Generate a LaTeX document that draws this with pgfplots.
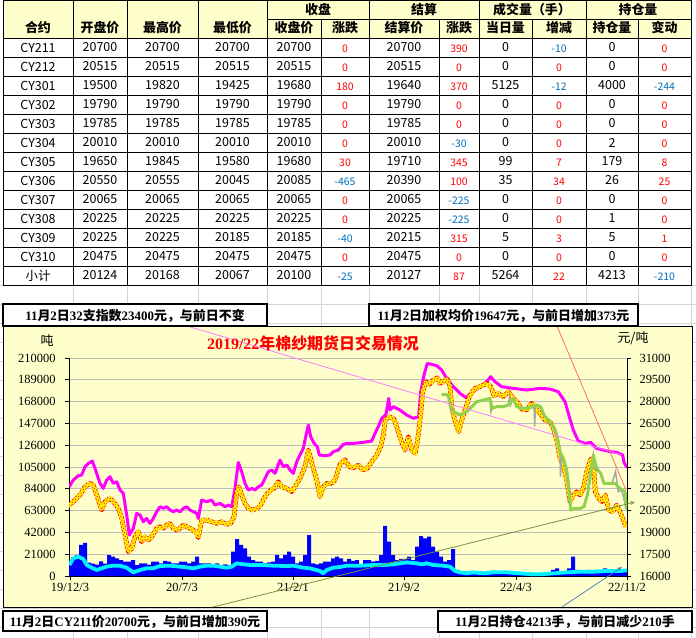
\documentclass[border=0pt]{standalone}
\usepackage{fontspec}
\setmainfont{Liberation Serif}
\newfontfamily\cjk{Noto Sans CJK SC}
\usepackage{pgfplots}
\pgfplotsset{compat=1.18}
\usepackage{pgfplotstable}
\usetikzlibrary{arrows.meta}
\definecolor{tblue}{RGB}{0,112,192}
\definecolor{hdr}{RGB}{255,255,204}
\definecolor{chartbg}{RGB}{255,255,204}
\definecolor{xlgrid}{RGB}{212,212,212}
\definecolor{mag}{RGB}{255,0,255}
\definecolor{lgreen}{RGB}{146,208,80}
\definecolor{vblue}{RGB}{0,0,255}
\definecolor{gcyan}{RGB}{0,240,255}
\newcommand\C[1]{{\cjk\bfseries #1}}
\newcommand\clr[1]{\ifnum#1<0 \color{tblue}\else\color{red}\fi#1}

\pgfplotstableread{
x y
0.3 22145
4.3 22603
9.3 22902
12.7 22948
16 23521
19.3 23751
23.3 23911
26 23406
31 22374
34.3 22030
37.7 22603
41 22833
44.3 22374
47.7 22489
51 21915
54.3 21686
57.7 20195
60.3 18819
64.3 19277
67.7 20310
71 20195
74.3 19736
77.7 19965
81 19621
84.3 19965
87.7 20424
91 20768
94.3 20654
97.7 20768
101 20539
104.3 20424
107.7 20539
111 20424
114.3 20654
117.7 20768
121 20539
124.3 20424
127.7 20310
129.3 19965
132.7 21227
137.7 21112
142.7 21227
146 20883
151 20998
156 20768
159.3 20883
162.7 20768
166 22030
169.3 23819
172.7 23177
176 22374
179.3 21915
182.7 22030
186 21915
189.3 22145
192.7 22259
196 22718
199.3 23177
202.7 23292
206 23062
211 23980
214.3 23521
217.7 23636
221 23292
224.3 23062
227.7 23864
231 24324
234.3 24783
236.7 25586
239.3 26389
241.7 25586
245 25127
248.3 24898
250.3 24324
256 24278
261 24324
264.3 24553
269.3 24668
274.3 25058
278.3 25127
284.3 25127
294.3 25196
302.7 25288
306 25815
309.3 26274
312.7 26848
317 27123
319.7 28224
321 27421
324.3 27650
331 27421
337.7 27077
344.3 26848
349.7 26962
351.7 28683
355 29830
358.3 30633
367.7 30472
372.7 30174
377.7 29600
384.3 29027
391 28568
397 28270
402.7 28637
411 29027
417.7 29371
421.7 29715
426 29371
432.7 29027
444.3 28912
457.7 28797
471 28912
481 28866
489.3 28683
496 27994
500.3 26962
504.3 26044
509.3 25288
516 25127
521.7 25196
527.7 24783
534.3 24668
541 24553
547.7 24508
553.7 24324
555 23819
558 23452
}\magtab

\pgfplotstableread{
x y
0.3 20883
6 21227
11 21571
16 22145
21 22374
24.3 22259
27.7 21571
32.7 20539
36 21112
41 21342
44.3 21112
49.3 20654
52.7 19965
56 18819
59.3 17671
62.7 17901
66 18704
69.3 19048
72.7 18360
76 18704
79.3 18474
82.7 18704
87.7 19277
91 19392
94.3 19277
97.7 19507
101 19621
104.3 19277
107.7 19163
111 19277
114.3 19507
117.7 19392
121 19277
124.3 19163
127.7 18933
129.3 18635
132.7 19851
137.7 19851
142.7 19736
147.7 19621
152.7 19736
157.7 19553
161.7 19621
165 20080
167.7 21686
169.7 22145
172.7 21571
176 20998
179.3 20654
183.7 20539
188.3 20654
191.7 20883
195 21342
198.3 21686
201.7 21915
205 22030
209.3 22489
212.7 22145
217.7 22030
222.7 21801
226 22145
231 22718
236 23521
239.3 24668
241.7 24095
244.3 23406
247.7 22603
251 21456
254.3 22145
257.7 22374
262.7 22374
266 22603
271 23700
276 24000
280.3 23521
285 23452
289.3 23636
293.7 23292
298.3 23406
302.7 23865
307.7 24324
311.7 24898
314.3 25700
316.3 26733
320.3 26962
325 26802
329.3 25930
332.7 25196
336 24668
339.3 25586
342.7 24668
346.3 24439
349.3 25700
351.7 27077
353.7 28683
357 29371
360.3 29187
364.3 29486
368.3 29646
371 29256
375 29417
378.3 29554
381 29027
383 27536
386.3 26618
389.7 25930
392.3 26618
396 27421
401 28453
406 28912
411 29027
417.7 29256
421.7 29027
425 28408
429.3 28568
434.3 28339
439.3 28683
444.3 28224
448.3 27949
452.7 27490
457.7 27421
462.7 27880
466.7 27536
471 27192
476 26733
481 26618
485 26045
488.3 25196
491 24095
494.3 23636
497.7 22603
501 21112
504.3 21571
507.7 21801
511 21571
514.3 22030
517.7 23177
521.7 24049
525 23177
526.3 21801
529.7 21342
533 21112
536.3 21571
539.7 20539
543.7 20424
547.7 20883
551 20424
554.3 19851
557 19392
}\redtab

\pgfplotstableread{
x y
372.7 28499
379.3 28453
381 27765
384.3 27306
391 27077
397.7 27306
402.7 27650
407.7 27994
414.3 28109
421 28224
423 27536
427.7 27650
434.3 27650
439.3 27765
444.3 28224
447.7 27650
454.3 27536
461 27582
467.7 27765
471.7 27650
475 27077
479.3 26733
484.3 26274
487.7 25700
491 24553
494.3 24095
497.7 23292
499.7 22030
501.7 20539
506 20654
511 20654
515 20768
518.3 21571
521.7 23062
524.3 24324
527.7 23406
531.7 23062
535 22374
539.3 22374
546 22374
549.3 22145
552.7 21915
556 21801
557.2 20654
558 20998
}\greentab

\pgfplotstableread{
x y
372.7 28499
379.3 28453
381 27765
384.3 27306
391 27077
397.7 27306
402.7 27650
407.7 27994
414.3 28109
421 28224
422 27306
423 27536
427.7 27650
434.3 27650
439.3 27765
440.5 28339
441.5 27765
444.3 28224
447.7 27650
454.3 27536
461 27582
465.3 27650
465.6 26274
466.5 27650
467.7 27765
471.7 27650
475 27077
479.3 26733
484.3 26274
487.7 25700
491 24553
491.5 22832
492.5 24200
494.3 24095
497.7 23292
499.7 22030
501.7 20539
506 20654
511 20654
515 20768
518.3 21571
521.7 23062
524.3 24324
525.5 23406
531.7 23062
535 22374
539.3 22374
543 22374
546.5 23177
549.3 21800
552.7 21915
556 21000
558 20800
}\graytab

\pgfplotstableread{
x y
0.3 10596
4.3 17018
9.3 18624
14.3 16376
17.7 10596
22.7 8027
27.7 5780
32.7 7385
37.7 8990
44.3 9954
51 9954
57.7 8027
61 5780
64.3 3532
71 5780
77.7 7385
84.3 7385
91 9633
101 9954
111 8990
117.7 8348
124.3 7385
131 8990
137.7 9954
144.3 9954
151 8990
157.7 8027
162.7 8990
167.7 12202
174.3 11239
181 10596
191 10596
204.3 9954
217.7 9633
224.3 9954
234.3 8027
241 7385
251 4817
254.3 2569
257.7 5780
264.3 8027
271 8670
277.7 9954
291 9954
304.3 10596
314.3 10596
324.3 11239
337.7 13166
347.7 12202
352.7 11239
357.7 12202
364.3 10596
374.3 9954
381 8990
386 4817
391 3532
397.7 2569
404.3 3532
414.3 2569
424.3 3532
437.7 3532
451 2569
464.3 1605
471 1605
484.3 2569
497.7 3532
511 4174
524.3 4174
537.7 4817
551 4817
558 5459
}\cyantab

\pgfplotstableread{
x y
0 14000
4 18000
8 20000
12 30000
16 32000
20 13000
24 12000
28 11000
32 14000
36 12000
40 20000
44 18600
48 17000
52 15400
56 13800
60 13800
64 15400
68 10600
72 12200
76 12200
80 11000
84 13800
88 13800
92 12200
96 14500
100 13800
104 12200
108 12200
112 13800
116 13800
120 12200
124 13800
128 18600
132 12200
136 12200
140 12200
144 11200
148 12200
152 10600
156 11200
160 10600
164 23400
168 35600
172 29900
176 26700
180 18600
184 15400
188 13800
192 13800
196 12200
200 13200
204 13800
208 20200
212 17000
216 20200
220 23400
224 18600
228 12200
232 13800
236 20200
240 39500
244 12200
248 11200
252 12200
256 13800
260 13800
264 17000
268 18600
272 17000
276 13800
280 16400
284 14500
288 15400
292 10600
296 15400
300 15400
304 13800
308 14500
312 20200
316 48200
320 33100
324 20200
328 15400
332 16400
336 16400
340 18600
344 15400
348 28300
352 38500
356 36300
360 37900
364 28300
368 23400
372 18600
376 13800
380 15400
384 26000
388 5800
392 4200
396 4200
400 4200
404 4200
408 4800
412 4200
416 3500
420 4200
424 3500
428 3500
432 4200
436 3500
440 3500
444 2600
448 3500
452 2600
456 2600
460 2600
464 2600
468 2600
472 2600
476 3500
480 3500
484 5800
488 7400
492 4200
496 4800
500 7400
504 18600
508 5800
512 4200
516 4200
520 5800
524 4800
528 5800
532 4800
536 7400
540 5800
544 4800
548 5400
552 5400
556 5800
}\bartab

\pgfplotsset{base/.style={width=558bp,height=218bp,scale only axis,
  at={(69bp,-576bp)},anchor=south west,xmin=0,xmax=558,no markers,
  tick align=outside,major tick length=4bp,
  tick style={black,line width=0.8bp},axis line style={black,line width=0.8bp},
  ticklabel style={font=\fontsize{12.5}{12.5}\selectfont},
  scaled y ticks=false,
  /pgf/number format/assume math mode=true,
  /pgf/number format/.cd,fixed,1000 sep={}}}

\begin{document}
\begin{tikzpicture}
\useasboundingbox (0,0) rectangle (696bp,-638bp);
\begin{scope}[x=1bp,y=-1bp]
\fill[white] (0,0) rectangle (696,638);
\foreach \xx in {73,127,198,267,321,369,439,479,532,586,638,691}
  \draw[xlgrid,line width=0.8bp] (\xx,0) -- (\xx,638);
\foreach \k in {0,...,18}
  \draw[xlgrid,line width=0.8bp] (0,{285+19*\k}) -- (696,{285+19*\k});
% table
\fill[hdr] (3,0.5) rectangle (691,38);
\fill[white] (3,38) rectangle (691,285);
\begin{scope}[black,line width=1bp]
\draw (3,0.5) rectangle (691,285);
\foreach \xx in {73,127,198,267,369,479,586} \draw (\xx,0.5) -- (\xx,285);
\foreach \xx in {321,439,532,638} \draw (\xx,19) -- (\xx,285);
\draw (267,19) -- (691,19);
\foreach \k in {0,...,12} \draw (3,{38+19*\k}) -- (691,{38+19*\k});
\end{scope}
\begin{scope}[every node/.style={font=\cjk\bfseries\fontsize{13}{13}\selectfont,inner sep=0pt}]
\node at (38,28) {合约};
\node at (100,28) {开盘价};
\node at (162.5,28) {最高价};
\node at (232.5,28) {最低价};
\node at (318,10) {收盘};
\node at (424,10) {结算};
\node at (532,10) {成交量（手）};
\node at (638,10) {持仓量};
\node at (294,28) {收盘价};
\node at (345,28) {涨跌};
\node at (404,28) {结算价};
\node at (459,28) {涨跌};
\node at (505.5,28) {当日量};
\node at (559,28) {增减};
\node at (612,28) {持仓量};
\node at (664.5,28) {变动};
\end{scope}
\foreach \rr/\cn/\ca/\cb/\cc/\cd/\ce/\cf/\cg/\ch/\ck/\cl/\cm in {
0/CY211/20700/20700/20700/20700/0/20700/390/0/-10/0/0,
1/CY212/20515/20515/20515/20515/0/20515/0/0/0/0/0,
2/CY301/19500/19820/19425/19680/180/19640/370/5125/-12/4000/-244,
3/CY302/19790/19790/19790/19790/0/19790/0/0/0/0/0,
4/CY303/19785/19785/19785/19785/0/19785/0/0/0/0/0,
5/CY304/20010/20010/20010/20010/0/20010/-30/0/0/2/0,
6/CY305/19650/19845/19580/19680/30/19710/345/99/7/179/8,
7/CY306/20550/20555/20045/20085/-465/20390/100/35/34/26/25,
8/CY307/20065/20065/20065/20065/0/20065/-225/0/0/0/0,
9/CY308/20225/20225/20225/20225/0/20225/-225/0/0/1/0,
10/CY309/20225/20225/20185/20185/-40/20215/315/5/3/5/1,
11/CY310/20475/20475/20475/20475/0/20475/0/0/0/0/0,
12/小计/20124/20168/20067/20100/-25/20127/87/5264/22/4213/-210}
{
\pgfmathsetmacro\yy{47.5+19*\rr}
\begin{scope}[every node/.style={font=\cjk\fontsize{12.5}{12.5}\selectfont,inner sep=0pt,text=black}]
\node at (38,\yy) {\cn};
\node at (100,\yy) {\ca};
\node at (162.5,\yy) {\cb};
\node at (232.5,\yy) {\cc};
\node at (294,\yy) {\cd};
\node at (404,\yy) {\cf};
\node at (505.5,\yy) {\ch};
\node at (612,\yy) {\cl};
\end{scope}
\begin{scope}[every node/.style={font=\cjk\fontsize{10.5}{10.5}\selectfont,inner sep=0pt}]
\node at (345,\yy+1) {\clr{\ce}};
\node at (459,\yy+1) {\clr{\cg}};
\node at (559,\yy+1) {\clr{\ck}};
\node at (664.5,\yy+1) {\clr{\cm}};
\end{scope}
}
% chart area
\fill[chartbg] (3,326) rectangle (692,607);
\draw[black,line width=0.8bp] (3,326) rectangle (692,607);
\end{scope}

% left axis
\begin{axis}[base,ymin=0,ymax=210000,
  ytick={0,21000,42000,63000,84000,105000,126000,147000,168000,189000,210000},
  axis y line*=left,axis x line*=bottom,
  yticklabel style={xshift=-6bp},
  xtick={1,113,224,335,447,558},
  xticklabels={19/12/3,20/7/3,21/2/1,21/9/2,22/4/3,22/11/2},
  ymajorgrids,major grid style={color={rgb,255:red,190;green,190;blue,190},line width=0.8bp},
  ]
\addplot[ybar,bar width=4,fill=vblue,draw=none] table {\bartab};
\addplot[gcyan,line width=3.8bp,line join=round] table {\cyantab};
\end{axis}

% right axis
\begin{axis}[base,ymin=16000,ymax=31000,
  ytick={16000,17500,19000,20500,22000,23500,25000,26500,28000,29500,31000},
  yticklabel style={xshift=5bp},
  axis y line*=right,axis x line=none]
\addplot[mag,line width=3bp,line join=round] table {\magtab};
\addplot[red,line width=4.5bp,line join=round] table {\redtab};
\addplot[yellow,line width=4.6bp,line cap=round,dash pattern=on 0pt off 4.2bp] table {\redtab};
\addplot[red!80!orange,line width=1.3bp,line cap=round,dash pattern=on 0pt off 4.2bp] table {\redtab};
\addplot[gray!70,line width=1.5bp] table {\graytab};
\addplot[lgreen,line width=3bp,line join=round] table {\greentab};
\end{axis}

\begin{scope}[x=1bp,y=-1bp]
% annotation lines
\draw[color={rgb,255:red,255;green,120;blue,255},line width=0.8bp] (187,326) -- (622,455);
\draw[color={rgb,255:red,255;green,110;blue,90},line width=0.8bp] (557,326) -- (626,490);
\draw[color={rgb,255:red,119;green,147;blue,60},line width=0.8bp,-{Stealth[length=5bp,width=4bp]}] (213,607) -- (635,502);
\draw[color={rgb,255:red,79;green,129;blue,189},line width=0.8bp,-{Stealth[length=5bp,width=4bp]}] (562,607) -- (622,567);
% unit labels and title
\node[font=\cjk\fontsize{13}{13}\selectfont] at (47,341) {吨};
\node[font=\cjk\fontsize{13}{13}\selectfont] at (633,338) {元/吨};
\node[text=red,font=\bfseries\fontsize{16}{16}\selectfont] at (313,343) {2019/22\C{年棉纱期货日交易情况}};
% text boxes
\begin{scope}[line width=2bp]
\filldraw[fill=white,draw=black] (3,304) rectangle (267,326);
\filldraw[fill=white,draw=black] (369,304) rectangle (638,326);
\filldraw[fill=white,draw=black] (3,611) rectangle (267,631);
\filldraw[fill=white,draw=black] (438,611) rectangle (692,632);
\end{scope}
\begin{scope}[every node/.style={font=\bfseries\fontsize{13}{13}\selectfont,inner sep=0pt}]
\node at (135,316) {11\C{月}2\C{日}32\C{支指数}23400\C{元，与前日不变}};
\node at (503.5,316) {11\C{月}2\C{日加权均价}19647\C{元，与前日增加}373\C{元}};
\node at (135,622) {11\C{月}2\C{日}CY211\C{价}20700\C{元，与前日增加}390\C{元}};
\node at (565,622) {11\C{月}2\C{日持仓}4213\C{手，与前日减少}210\C{手}};
\end{scope}
\end{scope}
\end{tikzpicture}
\end{document}
